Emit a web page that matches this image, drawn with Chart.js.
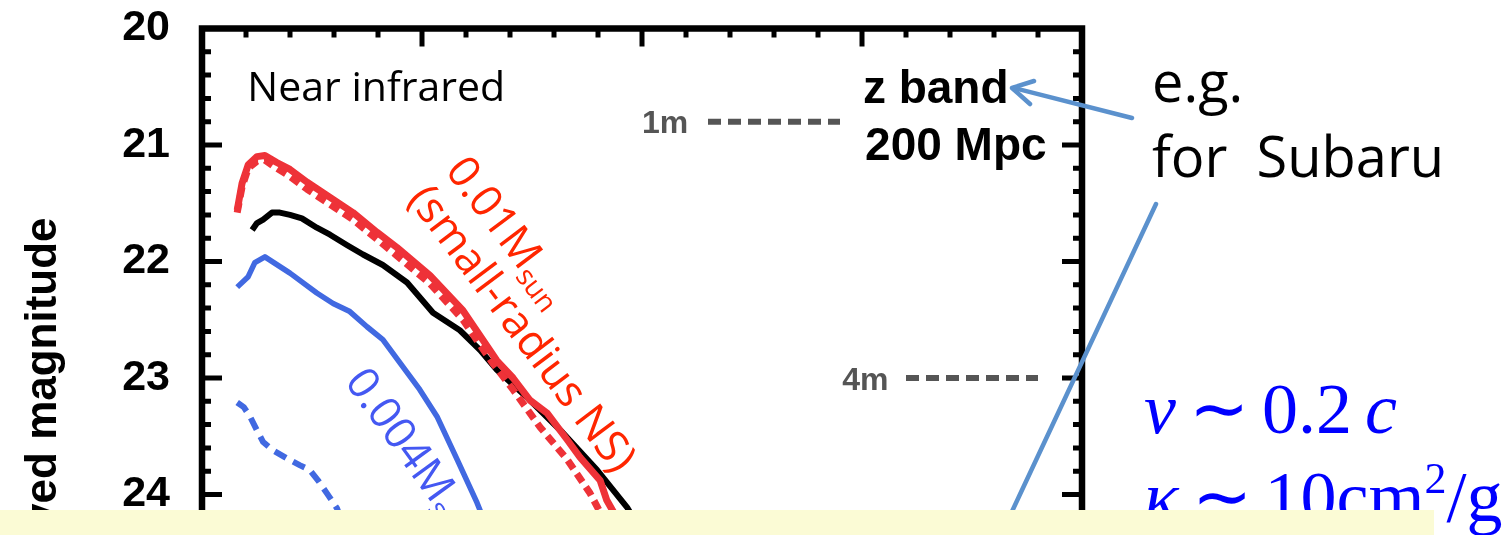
<!DOCTYPE html>
<html>
<head>
<meta charset="utf-8">
<script src="https://cdn.jsdelivr.net/npm/chart.js@4.4.1/dist/chart.umd.min.js"></script>
<style>
  html, body { margin: 0; padding: 0; width: 1512px; height: 535px; overflow: hidden; background: #fff; }
  #wrap { position: absolute; left: 0; top: 0; width: 1512px; height: 900px; }
  .slide { position: absolute; white-space: pre; margin: 0; }
  .cal { font-family: "Open Sans", sans-serif; font-size: 56px; line-height: 75px; color: #000; left: 1152px; top: 43px; }
  .eq { font-family: "Liberation Serif", "Times New Roman", serif; font-size: 72px; line-height: 88px; color: #0000ff; left: 1144px; top: 365px; word-spacing: -5px; }
  .eq i { font-style: italic; }
  .eq sup { font-size: 44px; line-height: 0; vertical-align: 28px; }
  #callouts { position: absolute; left: 0; top: 0; }
  #note { position: absolute; left: 0; top: 510px; width: 1434px; height: 30px; background: #fbfbd5; }
</style>
</head>
<body>
<div id="wrap"><canvas id="chart" width="1512" height="900"></canvas></div>

<div class="slide cal">e.g.
for  Subaru</div>
<div class="slide eq"><i>v</i> ∼ 0.2 <i>c</i>
<i>κ</i> ∼ 10cm<sup>2</sup>/g</div>

<svg id="callouts" width="1512" height="535">
  <g stroke="#5b91cd" stroke-width="4.5" fill="none" stroke-linecap="round" stroke-linejoin="round">
    <line x1="1132" y1="118" x2="1014" y2="88"/>
    <polyline points="1034,81 1012,88 1030,104"/>
    <line x1="1156" y1="204" x2="1008" y2="520"/>
  </g>
</svg>
<div id="note"></div>

<script>
// days after merger / observed magnitude
const redDays  = [0.80, 0.91, 1.05, 1.25, 1.43, 1.70, 2.00, 2.39, 2.91, 3.43, 3.98, 4.43, 5.18, 5.93, 6.70, 7.07, 7.45, 7.84, 8.30, 8.59, 9.05, 9.20, 9.80, 10.30];
const redMag   = [21.56, 21.33, 21.17, 21.10, 21.09, 21.15, 21.21, 21.32, 21.45, 21.58, 21.75, 21.88, 22.12, 22.42, 22.85, 23.00, 23.19, 23.30, 23.53, 23.68, 23.88, 24.05, 24.45, 24.80];

const redDashDays = [0.80, 0.91, 1.05, 1.25, 1.43, 1.70, 2.00, 2.39, 2.91, 3.43, 3.98, 4.43, 5.18, 5.93, 6.60, 7.07, 7.68, 8.30, 8.82, 9.40, 9.90];
const redDashMag  = [21.58, 21.36, 21.20, 21.14, 21.13, 21.20, 21.27, 21.38, 21.51, 21.64, 21.81, 21.95, 22.19, 22.50, 22.87, 23.10, 23.42, 23.70, 23.99, 24.40, 24.75];

const blackDays = [1.14, 1.25, 1.39, 1.59, 1.77, 2.00, 2.27, 2.61, 2.91, 3.30, 3.66, 4.11, 4.66, 5.25, 5.86, 6.32, 6.70, 7.45, 8.20, 8.98, 9.66, 10.20];
const blackMag  = [21.73, 21.67, 21.64, 21.58, 21.58, 21.60, 21.63, 21.71, 21.77, 21.86, 21.94, 22.03, 22.18, 22.44, 22.59, 22.76, 22.93, 23.19, 23.47, 23.79, 24.11, 24.45];

const blueDays = [0.80, 1.05, 1.20, 1.43, 2.00, 2.61, 2.98, 3.36, 3.75, 4.11, 4.50, 4.95, 5.34, 5.80, 6.25, 6.60];
const blueMag  = [22.22, 22.13, 22.01, 21.96, 22.10, 22.27, 22.36, 22.43, 22.56, 22.67, 22.87, 23.10, 23.33, 23.70, 24.07, 24.40];

const blueDashDays = [0.80, 0.95, 1.09, 1.25, 1.39, 1.61, 1.93, 2.23, 2.45, 2.64, 2.84, 3.07, 3.30];
const blueDashMag  = [23.21, 23.25, 23.33, 23.45, 23.55, 23.62, 23.69, 23.75, 23.79, 23.88, 23.99, 24.12, 24.35];

// telescope limits (dashed grey marks)
const limitNames = ['1m', '4m'];
const limitMag   = [20.80, 23.00];
const limitFrom  = [11.5, 16.0];
const limitTo    = [14.5, 19.0];

const yTicks = [20, 21, 22, 23, 24, 25, 26, 27];

const pts = (xs, ys) => xs.map((d, i) => ({ x: d, y: ys[i] }));

const limitSets = limitNames.map((n, i) => ({
    data: [{ x: limitFrom[i], y: limitMag[i] }, { x: limitTo[i], y: limitMag[i] }],
    borderColor: '#555555', borderWidth: 6, borderDash: [13, 7]
}));

// axis frame with inward ticks on all four sides
const frameTicks = {
    id: 'frameTicks',
    afterDatasetsDraw(chart) {
        const { ctx, chartArea: a, scales: { x, y } } = chart;
        ctx.save();
        ctx.strokeStyle = '#000';
        ctx.lineWidth = 5;
        ctx.beginPath();
        for (let d = 0; d <= 20; d++) {
            const px = x.getPixelForValue(d);
            const len = d % 5 === 0 ? 18 : 9;
            ctx.moveTo(px, a.top); ctx.lineTo(px, a.top + len);
            ctx.moveTo(px, a.bottom); ctx.lineTo(px, a.bottom - len);
        }
        for (let k = 0; k <= 35; k++) {
            const py = y.getPixelForValue(20 + k * 0.2);
            const len = k % 5 === 0 ? 20 : 9;
            ctx.moveTo(a.left, py); ctx.lineTo(a.left + len, py);
            ctx.moveTo(a.right, py); ctx.lineTo(a.right - len, py);
        }
        ctx.stroke();
        ctx.lineWidth = 6.5;
        ctx.strokeRect(a.left, a.top, a.right - a.left, a.bottom - a.top);
        ctx.restore();
    }
};

// text inside the plot
const plotText = {
    id: 'plotText',
    afterDatasetsDraw(chart) {
        const { ctx, scales: { x, y } } = chart;
        ctx.save();
        ctx.textBaseline = 'alphabetic';
        ctx.textAlign = 'left';
        ctx.fillStyle = '#000';
        ctx.font = '41px "Open Sans"';
        ctx.fillText('Near infrared', x.getPixelForValue(1.03), y.getPixelForValue(20.62));
        ctx.font = 'bold 46px "Liberation Sans"';
        ctx.fillText('z band', x.getPixelForValue(15.02), y.getPixelForValue(20.64));
        ctx.fillText('200 Mpc', x.getPixelForValue(15.07), y.getPixelForValue(21.13));

        ctx.fillStyle = '#555555';
        ctx.font = 'bold 32px "Liberation Sans"';
        ctx.fillText(limitNames[0], x.getPixelForValue(10.0), y.getPixelForValue(20.90));
        ctx.fillText(limitNames[1], x.getPixelForValue(14.55), y.getPixelForValue(23.10));

        // curve labels, rotated along the curves
        const label = (day, mag, deg, color, lines) => {
            ctx.save();
            ctx.translate(x.getPixelForValue(day), y.getPixelForValue(mag));
            ctx.rotate(deg * Math.PI / 180);
            ctx.fillStyle = color;
            ctx.textBaseline = 'middle';
            lines.forEach(l => {
                let cx = 0;
                l.parts.forEach(p => {
                    ctx.font = p.size + 'px "Open Sans"';
                    ctx.fillText(p.t, cx, l.dy + (p.sub || 0));
                    cx += ctx.measureText(p.t).width;
                });
            });
            ctx.restore();
        };
        label(4.88, 21.40, 53, '#ff2600', [
            { dy: -47, parts: [{ t: '0.01M', size: 44 }, { t: 'sun', size: 28, sub: 12 }] },
            { dy: 0, parts: [{ t: '(small-radius NS)', size: 44 }] }
        ]);
        label(3.45, 22.97, 54, '#4458f2', [
            { dy: 0, parts: [{ t: '0.004M', size: 44 }, { t: 'sun', size: 28, sub: 12 }] }
        ]);
        ctx.restore();
    }
};

new Chart(document.getElementById('chart'), {
    type: 'line',
    data: {
        datasets: [
            { data: pts(redDays, redMag), borderColor: '#ee3238', borderWidth: 7 },
            { data: pts(redDashDays, redDashMag), borderColor: '#ee3238', borderWidth: 7, borderDash: [10, 6] },
            { data: pts(blackDays, blackMag), borderColor: '#000000', borderWidth: 6 },
            { data: pts(blueDays, blueMag), borderColor: '#4169e1', borderWidth: 5.5 },
            { data: pts(blueDashDays, blueDashMag), borderColor: '#4169e1', borderWidth: 6, borderDash: [13, 8] },
            ...limitSets
        ]
    },
    options: {
        responsive: false,
        animation: false,
        devicePixelRatio: 1,
        layout: { autoPadding: false, padding: { top: 28.5, right: 430, bottom: 56, left: 0 } },
        elements: {
            point: { radius: 0 },
            line: { tension: 0, fill: false, borderJoinStyle: 'round' }
        },
        plugins: { legend: { display: false }, tooltip: { enabled: false } },
        scales: {
            x: { type: 'linear', min: 0, max: 20, display: false },
            y: {
                type: 'linear', min: 20, max: 27, reverse: true,
                afterFit: s => { s.width = 202; s.paddingTop = 0; s.paddingBottom = 0; },
                afterBuildTicks: s => { s.ticks = yTicks.map(v => ({ value: v })); },
                grid: { display: false, drawTicks: false },
                border: { display: false },
                ticks: {
                    padding: 32, color: '#000',
                    font: { family: '"Liberation Sans", Arial', size: 43, weight: 'bold' }
                },
                title: {
                    display: true, text: 'Observed magnitude', color: '#000',
                    font: { family: '"Liberation Sans", Arial', size: 44, weight: 'bold' },
                    padding: { top: 17, bottom: 0 }
                }
            }
        }
    },
    plugins: [frameTicks, plotText]
});
</script>
</body>
</html>
